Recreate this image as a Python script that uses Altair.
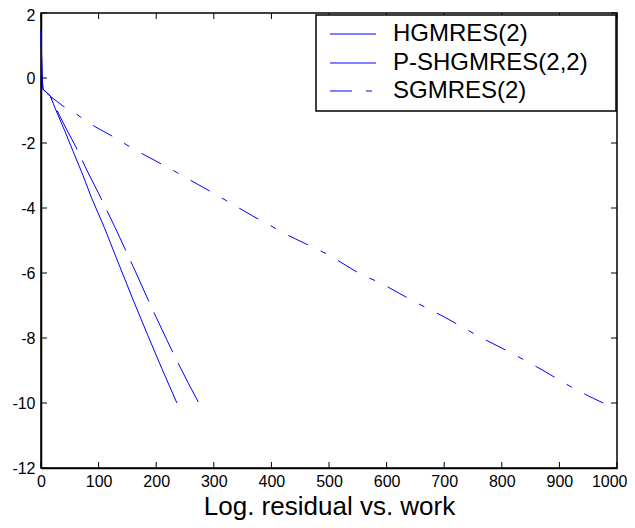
import altair as alt
import pandas as pd

# ---- data ----
hg_work = [0, 1, 2, 3.5, 10, 16, 25, 43, 56, 73, 88, 110, 130, 160, 185, 210, 236]
hg_res = [1.5, 0.7, 0.0, -0.35, -0.45, -0.55, -0.95, -1.7, -2.27, -3.0, -3.7, -4.6, -5.5, -6.83, -7.9, -8.95, -10.0]

ps_work = [0, 1, 2, 3.5, 10, 16, 25, 45, 60, 80, 100, 130, 160, 193, 226, 238, 256, 274]
ps_res = [1.5, 0.7, 0.0, -0.35, -0.45, -0.55, -0.9, -1.6, -2.1, -2.85, -3.55, -4.65, -5.8, -7.1, -8.34, -8.77, -9.4, -10.0]

sg_work = [0, 1, 2, 3.5, 10, 19, 38, 61, 73, 94, 128, 160, 219, 253, 300, 368, 430, 497,
           557, 589, 649, 700, 760, 823, 870, 915, 950, 976]
sg_res = [1.5, 0.7, 0.0, -0.35, -0.47, -0.6, -0.86, -1.1, -1.26, -1.5, -1.83, -2.18, -2.74, -3.08,
          -3.55, -4.25, -4.85, -5.42, -6.06, -6.3, -6.89, -7.35, -7.95, -8.52, -8.98, -9.45, -9.78, -10.0]

series_names = ["HGMRES(2)", "P-SHGMRES(2,2)", "SGMRES(2)"]
x_ticks = [0, 100, 200, 300, 400, 500, 600, 700, 800, 900, 1000]
y_ticks = [-12, -10, -8, -6, -4, -2, 0, 2]
x_title = "Log. residual vs. work"

W, H = 576, 455
FONT = "Liberation Sans"
BLUE = "#0000ff"

xs = alt.Scale(domain=[0, 1000], nice=False, zero=False)
ys = alt.Scale(domain=[-12, 2], nice=False, zero=False)

xaxis = alt.Axis(values=x_ticks, title=x_title, ticks=False, grid=False, labelFontSize=16,
                 labelPadding=5, titleFontSize=26, titleFontWeight="normal",
                 titleBaseline="alphabetic", titleY=46,
                 labelAlign={"condition": {"test": "datum.value >= 1000", "value": "right"},
                             "value": "center"},
                 labelOffset={"condition": {"test": "datum.value >= 1000", "value": 10},
                              "value": 0},
                 labelFlush=False, labelOverlap=False, labelExpr="datum.value + ''")
yaxis = alt.Axis(values=y_ticks, title=None, ticks=False, grid=False, labelFontSize=16,
                 labelPadding=6, labelFlush=False, labelOverlap=False,
                 labelOffset={"condition": {"test": "datum.value >= 2", "value": 2},
                              "value": 0},
                 labelExpr="datum.value + ''")


def line_layer(work, res, dash=None, offset=None):
    df = pd.DataFrame({"work": work, "res": res})
    kw = dict(color=BLUE, strokeWidth=1)
    if dash is not None:
        kw["strokeDash"] = dash
    if offset is not None:
        kw["strokeDashOffset"] = offset
    return alt.Chart(df).mark_line(**kw).encode(
        x=alt.X("work:Q", scale=xs, axis=xaxis),
        y=alt.Y("res:Q", scale=ys, axis=yaxis),
    )


hg = line_layer(hg_work, hg_res)
ps = line_layer(ps_work, ps_res, dash=[44, 12], offset=26)
sg = line_layer(sg_work, sg_res, dash=[22, 14, 6, 14], offset=46)

xt = pd.DataFrame({"work": x_ticks})
yt = pd.DataFrame({"res": y_ticks})
tick_x_bottom = alt.Chart(xt).mark_rule(color="black", strokeWidth=1).encode(
    x=alt.X("work:Q", scale=xs, axis=xaxis), y=alt.value(H), y2=alt.value(H - 6))
tick_x_top = alt.Chart(xt).mark_rule(color="black", strokeWidth=1).encode(
    x=alt.X("work:Q", scale=xs, axis=xaxis), y=alt.value(0), y2=alt.value(6))
tick_y_left = alt.Chart(yt).mark_rule(color="black", strokeWidth=1).encode(
    y=alt.Y("res:Q", scale=ys, axis=yaxis), x=alt.value(0), x2=alt.value(6))
tick_y_right = alt.Chart(yt).mark_rule(color="black", strokeWidth=1).encode(
    y=alt.Y("res:Q", scale=ys, axis=yaxis), x=alt.value(W), x2=alt.value(W - 6))

# ---- legend box (drawn by hand, MATLAB-style) ----
one = pd.DataFrame({"k": [0]})
leg_box = alt.Chart(one).mark_rect(fill="white", stroke="black", strokeWidth=1.5).encode(
    x=alt.value(275), x2=alt.value(575), y=alt.value(2), y2=alt.value(98))

leg_y = [21, 50, 78]
leg_dash = [None, None, [22, 14, 6, 14]]
leg_layers = []
for name, yc, dash in zip(series_names, leg_y, leg_dash):
    d = pd.DataFrame({"name": [name]})
    kw = dict(color=BLUE, strokeWidth=1)
    if dash is not None:
        kw["strokeDash"] = dash
    leg_layers.append(alt.Chart(d).mark_rule(**kw).encode(
        x=alt.value(289), x2=alt.value(335), y=alt.value(yc)))
    leg_layers.append(alt.Chart(d).mark_text(align="left", baseline="middle", fontSize=24,
                                             font=FONT, color="black").encode(
        x=alt.value(352), y=alt.value(yc), text="name:N"))

chart = alt.layer(
    hg, ps, sg, tick_x_bottom, tick_x_top, tick_y_left, tick_y_right, leg_box, *leg_layers
).properties(
    width=W, height=H,
    autosize=alt.AutoSizeParams(type="none"),
    padding={"left": 33, "top": 5, "right": 10, "bottom": 52},
).configure_view(
    stroke="black", strokeWidth=1.5
).configure_axis(
    domainColor="black", domainWidth=1.5, labelColor="black", titleColor="black",
    labelFont=FONT, titleFont=FONT
)

chart.save("out.html", embed_options={"renderer": "svg", "actions": False})
